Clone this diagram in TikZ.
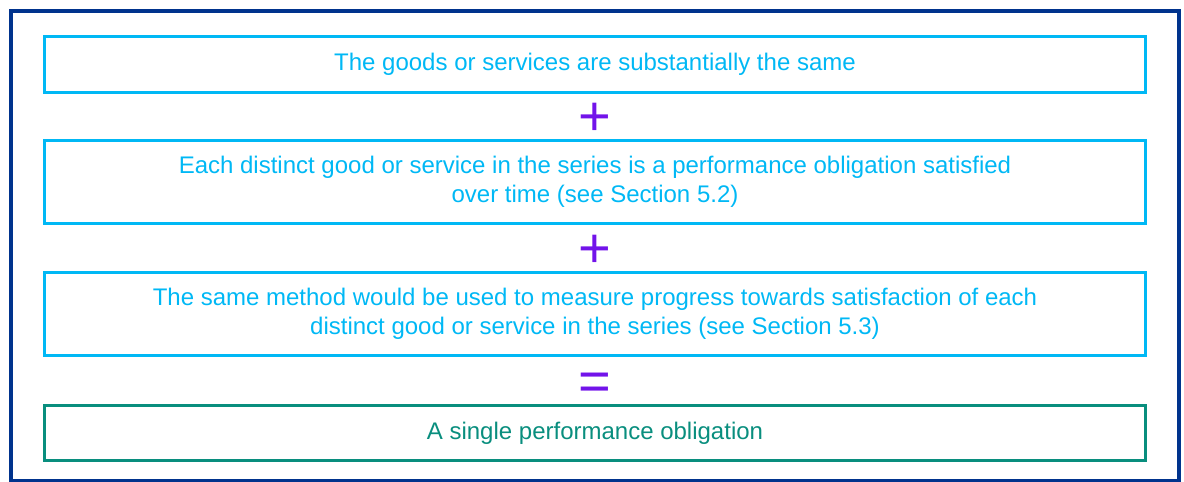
\documentclass[tikz,border=0pt]{standalone}
\usepackage{fontspec}
\setmainfont{Liberation Sans}
\usetikzlibrary{positioning,calc}
\definecolor{kblue}{HTML}{00338D}
\definecolor{kcyan}{HTML}{00B8F5}
\definecolor{kpurple}{HTML}{7213EA}
\definecolor{kgreen}{HTML}{098E7E}

\begin{document}
\begin{tikzpicture}[x=1pt, y=1pt, cond/.style = {rectangle, draw = kcyan, line width = 3pt, outer sep = 0pt, minimum width = 1101pt, align = center, text = kcyan, font = \fontsize{24}{29}\selectfont}, result/.style = {cond, draw = kgreen, text = kgreen}, op/.style = {text = kpurple, inner sep = 0pt, yshift = -3pt, font = \fontsize{56}{56}\selectfont}]
\useasboundingbox (0,0) rectangle (1184,-482);
\draw[kblue, line width = 3.5pt] (11,-11) rectangle (1179,-481);

\node(goods) [cond, minimum height = 56pt] at (595,-64.5) {The goods or services are substantially the same};
\node(overtime) [cond, minimum height = 83pt, below = 48pt of goods] {Each distinct good or service in the series is a performance obligation satisfied\\over time (see Section 5.2)};
\node(method) [cond, minimum height = 83pt, below = 49pt of overtime] {The same method would be used to measure progress towards satisfaction of each\\distinct good or service in the series (see Section 5.3)};
\node(single) [result, minimum height = 55pt, below = 50pt of method] {A single performance obligation};

\node(plusa) [op] at ($(goods.south)!.5!(overtime.north)$) {+};
\node(plusb) [op] at ($(overtime.south)!.5!(method.north)$) {+};
\node(equals) [op, yshift = -3pt] at ($(method.south)!.5!(single.north)$) {=};
\end{tikzpicture}
\end{document}
